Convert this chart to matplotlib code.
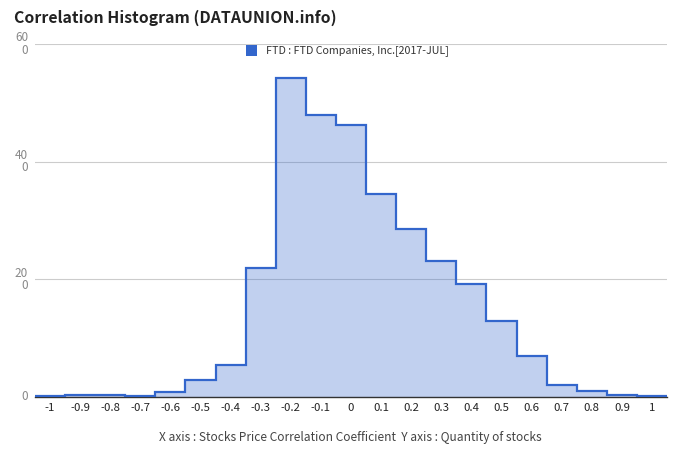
import matplotlib
matplotlib.use("Agg")
import matplotlib.pyplot as plt
import matplotlib.patches as mpatches
import numpy as np

plt.rcParams['font.family'] = ['Noto Sans CJK KR', 'DejaVu Sans']

title = "Correlation Histogram (DATAUNION.info)"
legend_label = "FTD : FTD Companies, Inc.[2017-JUL]"
x_caption = "X axis : Stocks Price Correlation Coefficient  Y axis : Quantity of stocks"

bin_centers = [-1.0, -0.9, -0.8, -0.7, -0.6, -0.5, -0.4, -0.3, -0.2, -0.1, 0.0,
               0.1, 0.2, 0.3, 0.4, 0.5, 0.6, 0.7, 0.8, 0.9, 1.0]
counts = [1, 4, 4, 2, 8, 29, 55, 219, 542, 479, 462,
          345, 285, 231, 192, 130, 70, 21, 11, 4, 2]
x_ticks = [-1, -0.9, -0.8, -0.7, -0.6, -0.5, -0.4, -0.3, -0.2, -0.1, 0,
           0.1, 0.2, 0.3, 0.4, 0.5, 0.6, 0.7, 0.8, 0.9, 1]
x_tick_labels = ["-1", "-0.9", "-0.8", "-0.7", "-0.6", "-0.5", "-0.4", "-0.3", "-0.2", "-0.1", "0",
                 "0.1", "0.2", "0.3", "0.4", "0.5", "0.6", "0.7", "0.8", "0.9", "1"]
y_ticks = [0, 200, 400, 600]
y_tick_labels = ["0", "20\n0", "40\n0", "60\n0"]

blue = "#3366CC"

fig = plt.figure(figsize=(6.8, 4.62), dpi=100)
ax = fig.add_axes([35/680, 65/462, 632/680, 353/462])

centers = np.array(bin_centers)
edges = np.concatenate([centers - 0.05, [centers[-1] + 0.05]])
ax.stairs(counts, edges, fill=True, color=blue, alpha=0.3, linewidth=0, zorder=2)
ax.stairs(counts, edges, baseline=None, color=blue, linewidth=1.6, zorder=4)

ax.set_xlim(-1.05, 1.05)
ax.set_ylim(0, 600)
ax.set_xticks(x_ticks)
ax.set_xticklabels(x_tick_labels, fontsize=8.2, color="#222222")
ax.set_yticks(y_ticks)
ax.set_yticklabels(y_tick_labels, fontsize=8.5, color="#888888",
                   linespacing=0.95, ha="right", va="center")
ax.tick_params(axis='both', length=0)
ax.tick_params(axis='x', pad=4)
ax.tick_params(axis='y', pad=5)
for s in ['top', 'right', 'left']:
    ax.spines[s].set_visible(False)
ax.spines['bottom'].set_color("#333333")
ax.spines['bottom'].set_linewidth(1.0)
ax.spines['bottom'].set_zorder(3)
ax.grid(axis='y', color="#cccccc", linewidth=0.8, zorder=0)
ax.set_axisbelow(True)

fig.text(14/680, 1 - 18/462, title, fontsize=11.4, fontweight='bold',
         color="#222222", ha='left', va='center')

# legend
fig.patches.append(mpatches.Rectangle((246/680, 1 - 56/462), 11/680, 11/462,
                                      transform=fig.transFigure, facecolor=blue,
                                      edgecolor='none'))
fig.text(266/680, 1 - 50.5/462, legend_label, fontsize=7.7, color="#333333",
         ha='left', va='center')

fig.text(350/680, 1 - 437/462, x_caption, fontsize=8.6, color="#444444",
         ha='center', va='center')

fig.savefig("out.png", dpi=100)
